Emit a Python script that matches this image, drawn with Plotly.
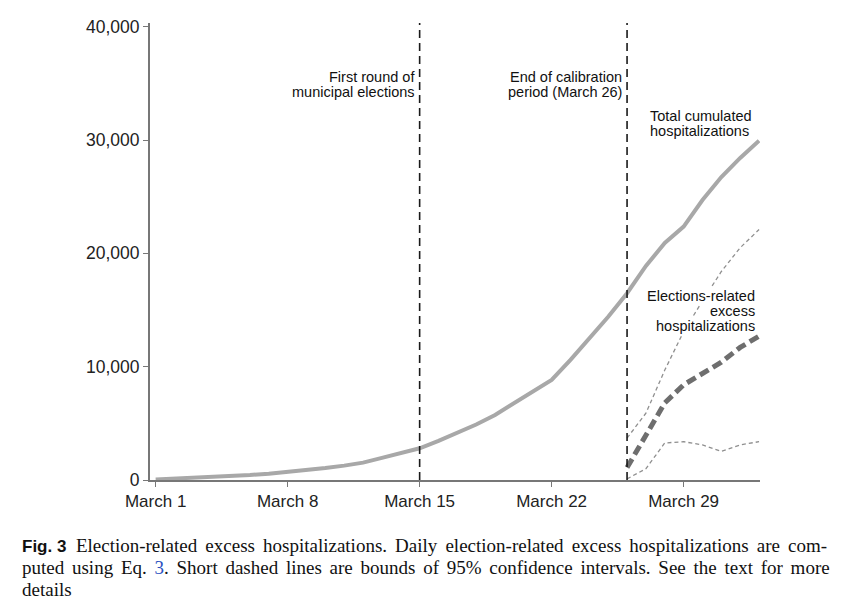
import plotly.graph_objects as go

# Days since March 1 (0 = March 1, 32 = April 2)
days_total = list(range(0, 33))
total_hosp = [50, 120, 190, 270, 350, 440, 560, 700, 850, 1050, 1270, 1530,
              1950, 2380, 2800, 3450, 4150, 4900, 5740, 6800, 7850, 8830,
              10600, 12500, 14400, 16480, 18890, 20920, 22360, 24710, 26740,
              28420, 29950]

days_excess = [25, 26, 27, 28, 29, 30, 31, 32]
excess = [1100, 3900, 6800, 8400, 9400, 10400, 11700, 12700]
excess_upper = [3700, 5900, 9700, 13100, 15800, 18400, 20500, 22100]
excess_lower = [100, 1000, 3270, 3380, 3100, 2520, 3100, 3380]

tick_days = [0, 7, 14, 21, 28]
tick_labels = ["March 1", "March 8", "March 15", "March 22", "March 29"]
y_ticks = [0, 10000, 20000, 30000, 40000]

election_day = 14
calibration_end = 25

SANS = "Liberation Sans, Arial, sans-serif"
SERIF = "Liberation Serif, Times New Roman, serif"

fig = go.Figure()
fig.add_trace(go.Scatter(x=days_total, y=total_hosp, mode="lines",
                         line=dict(color="#a8a8a8", width=4), showlegend=False))
fig.add_trace(go.Scatter(x=days_excess, y=excess_upper, mode="lines",
                         line=dict(color="#8f8f8f", width=1.3, dash="4px,3px"), showlegend=False))
fig.add_trace(go.Scatter(x=days_excess, y=excess_lower, mode="lines",
                         line=dict(color="#8f8f8f", width=1.3, dash="4px,3px"), showlegend=False))
fig.add_trace(go.Scatter(x=days_excess, y=excess, mode="lines",
                         line=dict(color="#6e6e6e", width=5, dash="10px,5px"), showlegend=False))

for d in [election_day, calibration_end]:
    fig.add_shape(type="line", xref="x", yref="paper", x0=d, x1=d, y0=0, y1=1,
                  line=dict(color="#1a1a1a", width=1.6, dash="8px,5px"))

PLOT_TOP, PLOT_BOTTOM = 23, 480
PLOT_H = PLOT_BOTTOM - PLOT_TOP


def py_paper(py):
    return (PLOT_BOTTOM - py) / PLOT_H


def px_paper(px):
    return (px - 150) / 610.0


ann_font = dict(family=SANS, size=14.5, color="#111111")


def label(lines, x, xref, y_first, anchor, xshift=0, step=15, bg=None):
    for i, t in enumerate(lines):
        fig.add_annotation(x=x, y=py_paper(y_first + step * i), xref=xref, yref="paper",
                           text=t, showarrow=False, xanchor=anchor, yanchor="middle",
                           align=anchor, xshift=xshift, borderpad=0, font=ann_font,
                           bgcolor=bg)


label(["First round of", "municipal elections"], election_day, "x", 77, "right", xshift=-4)
label(["End of calibration", "period (March 26)"], calibration_end, "x", 77, "right", xshift=-4)
label(["Total cumulated", "hospitalizations"], px_paper(649), "paper", 116, "left")
label(["Elections-related", "excess", "hospitalizations"], px_paper(756), "paper", 296, "right",
      bg="white")

cap_font = dict(family=SERIF, size=19, color="#111111")
cap_lines = [
    "<span style='font-family:Liberation Sans, Arial;font-weight:bold;font-size:17px'>Fig. 3</span>"
    "&nbsp;&nbsp;<span style='word-spacing:3.35px'>Election-related excess hospitalizations. Daily election-related excess hospitalizations are com-</span>",
    "<span style='word-spacing:3.0px'>puted using Eq. </span><span style='color:#2a4fc0'>3</span>"
    "<span style='word-spacing:3.0px'>. Short dashed lines are bounds of 95% confidence intervals. See the text for more</span>",
    "details",
]
for i, line in enumerate(cap_lines):
    fig.add_annotation(x=px_paper(20), y=py_paper(545 + 22 * i), xref="paper", yref="paper",
                       text=line, showarrow=False, xanchor="left", yanchor="middle",
                       align="left", font=cap_font)

fig.update_layout(
    width=849, height=606,
    margin=dict(l=150, r=89, t=PLOT_TOP, b=606 - PLOT_BOTTOM),
    paper_bgcolor="white", plot_bgcolor="white",
    font=dict(family=SANS, color="#222222"),
)
fig.update_xaxes(range=[-0.3, 32.05], tickvals=tick_days, ticktext=tick_labels,
                 showline=True, linecolor="#777777", linewidth=2, ticks="outside",
                 ticklen=5, tickcolor="#777777", tickwidth=1, showgrid=False, zeroline=False,
                 tickfont=dict(family=SANS, size=17, color="#222222"))
fig.update_yaxes(range=[0, 40330], tickvals=y_ticks, tickformat=",",
                 showline=True, linecolor="#777777", linewidth=2, ticks="outside",
                 ticklen=5, tickcolor="#777777", tickwidth=1, showgrid=False, zeroline=False,
                 tickfont=dict(family=SANS, size=17.5, color="#222222"))

fig.write_html("out.html")
